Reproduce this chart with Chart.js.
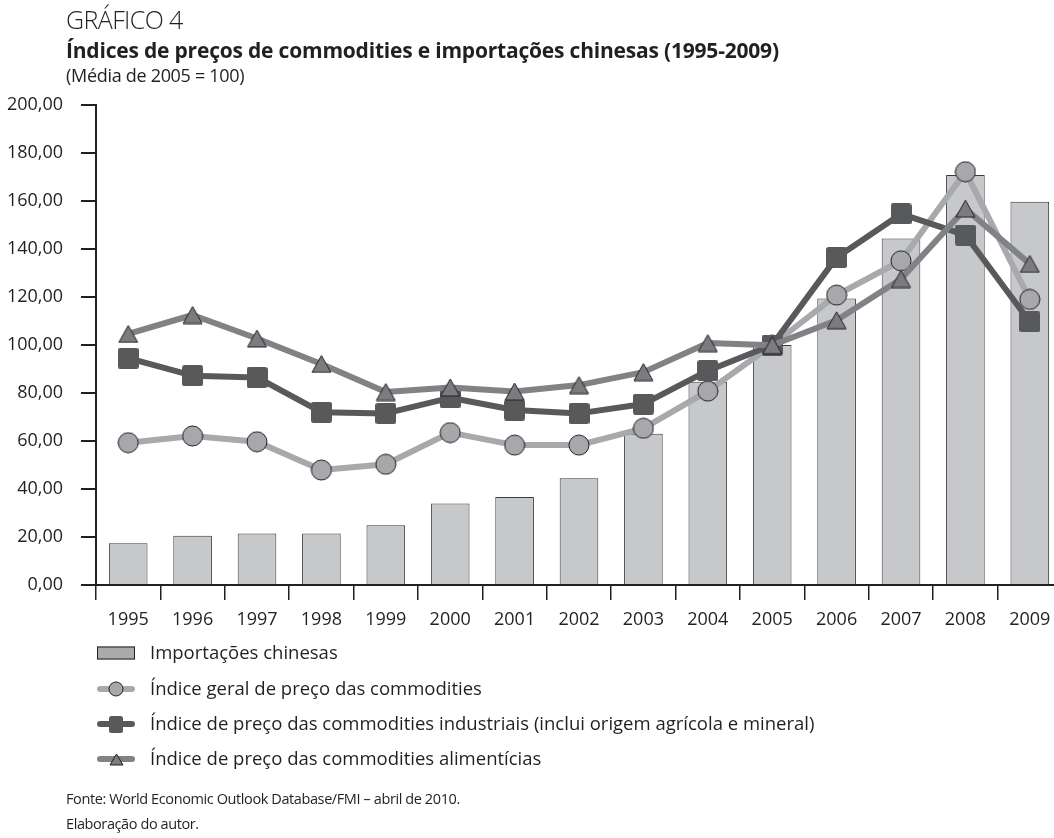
<!DOCTYPE html>
<html>
<head>
<meta charset="utf-8">
<script src="https://cdn.jsdelivr.net/npm/chart.js@4.4.1/dist/chart.umd.min.js"></script>
<style>
html, body { margin: 0; padding: 0; overflow: hidden; background: #fff; width: 1054px; height: 838px; }
#wrap { position: relative; width: 1054px; height: 838px; overflow: hidden; }
#c { position: absolute; left: 0; top: 0; }
.t { position: absolute; left: 66px; color: #231f20; font-family: "Open Sans", "Noto Sans", sans-serif; white-space: nowrap; line-height: 1; }
#g4 { top: 7px; font-size: 25px; font-weight: 300; letter-spacing: -0.6px; }
#tt { top: 40px; font-size: 21px; font-weight: 700; letter-spacing: -0.2px; }
#st { top: 66px; font-size: 18px; letter-spacing: -0.3px; }
#f1 { top: 792px; font-size: 14.5px; letter-spacing: -0.4px; }
#f2 { top: 817px; font-size: 14.5px; letter-spacing: -0.4px; }
</style>
</head>
<body>
<div id="wrap">
<canvas id="c" width="1062" height="838"></canvas>
<div class="t" id="g4">GRÁFICO 4</div>
<div class="t" id="tt">Índices de preços de commodities e importações chinesas (1995-2009)</div>
<div class="t" id="st">(Média de 2005 = 100)</div>
<div class="t" id="f1">Fonte: World Economic Outlook Database/FMI – abril de 2010.</div>
<div class="t" id="f2">Elaboração do autor.</div>
</div>
<script>
// ---- data ----
const years = ['1995','1996','1997','1998','1999','2000','2001','2002','2003','2004','2005','2006','2007','2008','2009'];
const importacoes = [17.4, 20.5, 21.5, 21.5, 24.9, 34.0, 36.7, 44.5, 63.0, 84.7, 100.0, 119.4, 144.4, 170.8, 159.7];
const indiceGeral = [59.3, 62.1, 59.7, 47.9, 50.3, 63.5, 58.3, 58.3, 65.3, 80.8, 100.0, 120.8, 135.1, 172.2, 119.0];
const indiceIndustriais = [94.5, 87.2, 86.5, 72.0, 71.5, 78.0, 72.9, 71.5, 75.4, 89.3, 100.0, 136.5, 154.6, 145.8, 109.7];
const indiceAlimenticias = [104.6, 112.5, 102.7, 92.1, 80.4, 82.3, 80.6, 83.3, 88.7, 100.8, 99.9, 110.3, 127.5, 156.8, 133.8];
const seriesNames = [
  'Importações chinesas',
  'Índice geral de preço das commodities',
  'Índice de preço das commodities industriais (inclui origem agrícola e mineral)',
  'Índice de preço das commodities alimentícias'
];
const yMin = 0, yMax = 200, yStep = 20;

const INK = '#231f20';
const FONT = '"Open Sans", "Noto Sans", sans-serif';
const C_BAR = '#c7c8ca', C_BAR_LEG = '#a9abad';
const C_GER_LINE = '#a7a9ac', C_GER_FILL = '#a6a8ab';
const C_IND = '#58595b';
const C_ALI_LINE = '#808285', C_ALI_FILL = '#7b7c7f';

function mkCanvas(w, h, draw) {
  const cv = document.createElement('canvas');
  cv.width = w; cv.height = h;
  draw(cv.getContext('2d'), w, h);
  return cv;
}
function circleImg(d) {
  return mkCanvas(d + 2, d + 2, (g, w, h) => {
    g.beginPath(); g.arc(w / 2, h / 2, d / 2, 0, Math.PI * 2);
    g.fillStyle = C_GER_FILL; g.fill();
    g.lineWidth = 1; g.strokeStyle = INK; g.stroke();
  });
}
function squareImg(sw, sh) {
  return mkCanvas(sw, sh, (g, w, h) => {
    const r = 2.5;
    g.beginPath();
    g.moveTo(r, 0); g.lineTo(w - r, 0); g.quadraticCurveTo(w, 0, w, r);
    g.lineTo(w, h - r); g.quadraticCurveTo(w, h, w - r, h);
    g.lineTo(r, h); g.quadraticCurveTo(0, h, 0, h - r);
    g.lineTo(0, r); g.quadraticCurveTo(0, 0, r, 0);
    g.fillStyle = C_IND; g.fill();
  });
}
function triImg(tw, th) {
  return mkCanvas(tw + 2, th + 2, (g, w, h) => {
    g.beginPath();
    g.moveTo(w / 2, 1); g.lineTo(w - 1, h - 1); g.lineTo(1, h - 1); g.closePath();
    g.fillStyle = C_ALI_FILL; g.fill();
    g.lineWidth = 1; g.strokeStyle = INK; g.lineJoin = 'miter'; g.stroke();
  });
}
const ptCircle = circleImg(20), ptSquare = squareImg(21, 21), ptTri = triImg(19, 17);
const lgCircle = circleImg(14), lgSquare = squareImg(14, 17), lgTri = triImg(13, 11);

const legendPlugin = {
  id: 'customLegend',
  afterDraw(chart) {
    const ctx = chart.ctx;
    const x0 = 97, x1 = 135, xm = 116, xt = 150;
    const rows = [653, 689, 724, 759];
    ctx.save();
    ctx.font = '18.5px ' + FONT;
    ctx.textBaseline = 'middle';
    ctx.fillStyle = C_BAR_LEG;
    ctx.fillRect(x0, rows[0] - 6.5, x1 - x0, 13);
    ctx.lineWidth = 1; ctx.strokeStyle = INK;
    ctx.strokeRect(x0 + 0.5, rows[0] - 6, x1 - x0 - 1, 12);
    const lines = [[C_GER_LINE, lgCircle], [C_IND, lgSquare], [C_ALI_LINE, lgTri]];
    lines.forEach((l, i) => {
      const y = rows[i + 1];
      ctx.strokeStyle = l[0]; ctx.lineWidth = 6; ctx.lineCap = 'round';
      ctx.beginPath(); ctx.moveTo(x0 + 3, y); ctx.lineTo(x1 - 3, y); ctx.stroke();
      ctx.drawImage(l[1], Math.round(xm - l[1].width / 2), Math.round(y - l[1].height / 2));
    });
    ctx.fillStyle = INK;
    seriesNames.forEach((n, i) => ctx.fillText(n, xt, rows[i] + 1));
    ctx.restore();
  }
};

new Chart(document.getElementById('c'), {
  type: 'bar',
  data: {
    labels: years,
    datasets: [
      { type: 'line', label: seriesNames[3], data: indiceAlimenticias, order: 1,
        borderColor: C_ALI_LINE, borderWidth: 6, pointStyle: ptTri, pointRadius: 10,
        tension: 0, borderJoinStyle: 'round' },
      { type: 'line', label: seriesNames[2], data: indiceIndustriais, order: 2,
        borderColor: C_IND, borderWidth: 6, pointStyle: ptSquare, pointRadius: 10,
        tension: 0, borderJoinStyle: 'round' },
      { type: 'line', label: seriesNames[1], data: indiceGeral, order: 3,
        borderColor: C_GER_LINE, borderWidth: 6, pointStyle: ptCircle, pointRadius: 10,
        tension: 0, borderJoinStyle: 'round' },
      { type: 'bar', label: seriesNames[0], data: importacoes, order: 4,
        backgroundColor: C_BAR, borderColor: '#3a3a3c', borderWidth: 1,
        barPercentage: 0.6, categoryPercentage: 1 }
    ]
  },
  options: {
    responsive: false,
    devicePixelRatio: 1,
    animation: false,
    layout: { autoPadding: false, padding: { top: 105, left: 0, right: 0, bottom: 203 } },
    plugins: { legend: { display: false }, tooltip: { enabled: false }, title: { display: false } },
    scales: {
      x: {
        offset: true,
        grid: { offset: true, drawOnChartArea: false, drawTicks: true, tickLength: 15, color: INK, lineWidth: 1.5 },
        border: { display: true, color: INK, width: 2 },
        ticks: { color: INK, font: { family: FONT, size: 18 }, padding: 9, maxRotation: 0 },
        afterFit(s) { s.height = 50; s.paddingLeft = 0; s.paddingRight = 0; }
      },
      y: {
        min: yMin, max: yMax,
        grid: { drawOnChartArea: false, drawTicks: true, tickLength: 15, color: INK, lineWidth: 2 },
        border: { display: true, color: INK, width: 2 },
        ticks: { stepSize: yStep, color: INK, font: { family: FONT, size: 18 }, padding: 18,
          callback: v => v.toFixed(2).replace('.', ',') },
        afterFit(s) { s.width = 96; }
      }
    }
  },
  plugins: [legendPlugin]
});
</script>
</body>
</html>
